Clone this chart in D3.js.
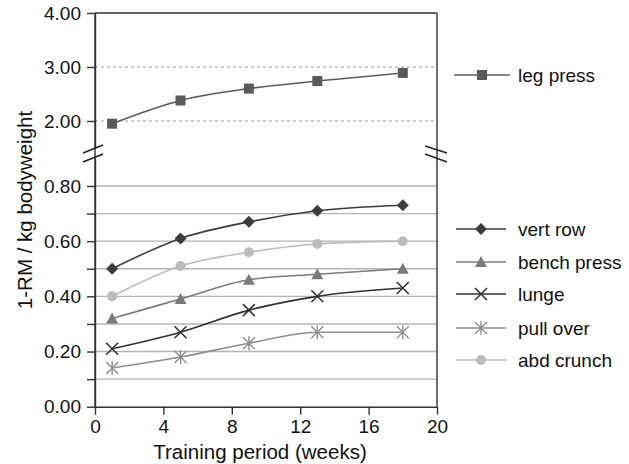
<!DOCTYPE html>
<html lang="en">
<head>
  <meta charset="UTF-8">
  <title>1-RM per kg bodyweight over training period</title>
  <script src="https://d3js.org/d3.v7.min.js"></script>
  <style>
    body { margin: 0; padding: 0; background: #fff; font-family: "Liberation Sans", Arial, sans-serif; }
    svg { display: block; }
    .axis text { font-family: "Liberation Sans", Arial, sans-serif; font-size: 19px; fill: #111; }
    .axis path, .axis line { stroke: #333; stroke-width: 1.4; }
  </style>
</head>
<body>
  <svg width="629" height="464"></svg>

  <script>
    // data
    const weeks = [1, 5, 9, 13, 18];
    const legPress   = [1.95, 2.38, 2.60, 2.74, 2.89];
    const vertRow    = [0.50, 0.61, 0.67, 0.71, 0.73];
    const benchPress = [0.32, 0.39, 0.46, 0.48, 0.50];
    const lunge      = [0.21, 0.27, 0.35, 0.40, 0.43];
    const pullOver   = [0.14, 0.18, 0.23, 0.27, 0.27];
    const abdCrunch  = [0.40, 0.51, 0.56, 0.59, 0.60];

    const xTicks = [0, 4, 8, 12, 16, 20];
    const upperTicks = [2, 3, 4];
    const lowerTicks = [0, 0.1, 0.2, 0.3, 0.4, 0.5, 0.6, 0.7, 0.8];

    const lowerSeries = [
      {name: "vert row",    values: vertRow,    color: "#3c3c3c", mark: "diamond"},
      {name: "bench press", values: benchPress, color: "#7a7a7a", mark: "triangle"},
      {name: "lunge",       values: lunge,      color: "#303030", mark: "cross"},
      {name: "pull over",   values: pullOver,   color: "#8e8e8e", mark: "star"},
      {name: "abd crunch",  values: abdCrunch,  color: "#bcbcbc", mark: "circle"}
    ];
    const upperSeries = [
      {name: "leg press", values: legPress, color: "#5a5a5a", mark: "square"}
    ];

    const svg = d3.select("svg");
    const left = 95, right = 437;

    const x = d3.scaleLinear().domain([0, 20]).range([left, right]);
    const yUp = d3.scaleLinear().domain([1.5, 4]).range([148, 13]);
    const yLo = d3.scaleLinear().domain([0, 0.9]).range([406.7, 158.4]);

    // grid lines
    svg.append("g").selectAll("line")
      .data([2, 3]).join("line")
      .attr("x1", left).attr("x2", right)
      .attr("y1", d => yUp(d)).attr("y2", d => yUp(d))
      .attr("stroke", "#999").attr("stroke-width", 1.1)
      .attr("stroke-dasharray", "3,3");

    svg.append("g").selectAll("line")
      .data(lowerTicks.filter(d => d > 0)).join("line")
      .attr("x1", left).attr("x2", right)
      .attr("y1", d => yLo(d)).attr("y2", d => yLo(d))
      .attr("stroke", "#b4b4b4").attr("stroke-width", 1.4);

    // frame: top and right borders
    svg.append("line")
      .attr("x1", left).attr("x2", right).attr("y1", yUp(4)).attr("y2", yUp(4))
      .attr("stroke", "#333").attr("stroke-width", 1.4);
    svg.append("line")
      .attr("x1", right).attr("x2", right).attr("y1", yUp(4)).attr("y2", yLo(0))
      .attr("stroke", "#333").attr("stroke-width", 1.4);

    // axes
    svg.append("g").attr("class", "axis")
      .attr("transform", `translate(${left},0)`)
      .call(d3.axisLeft(yUp).tickValues(upperTicks).tickSize(8).tickSizeOuter(0).tickPadding(6).tickFormat(d3.format(".2f")));

    svg.append("g").attr("class", "axis")
      .attr("transform", `translate(${left},0)`)
      .call(d3.axisLeft(yLo).tickValues(lowerTicks).tickSize(8).tickSizeOuter(0).tickPadding(6)
        .tickFormat(d => Math.round(d * 10) % 2 === 0 ? d3.format(".2f")(d) : ""));

    // continuous left spine across the break
    svg.append("line")
      .attr("x1", left).attr("x2", left).attr("y1", yUp(4)).attr("y2", yLo(0))
      .attr("stroke", "#333").attr("stroke-width", 1.4);

    svg.append("g").attr("class", "axis")
      .attr("transform", `translate(0,${yLo(0)})`)
      .call(d3.axisBottom(x).tickValues(xTicks).tickSize(8).tickSizeOuter(0).tickPadding(5));

    // axis break marks
    const brk = svg.append("g").attr("stroke", "#222").attr("stroke-width", 1.6);
    [[153, 145], [162, 154]].forEach(([a, b]) => {
      brk.append("line").attr("x1", left - 12).attr("y1", a).attr("x2", left + 8).attr("y2", b);
    });
    [[146, 153], [154, 162]].forEach(([a, b]) => {
      brk.append("line").attr("x1", right - 12).attr("y1", a).attr("x2", right + 10).attr("y2", b);
    });

    // marker drawing
    function drawMark(g, mark, color, cx, cy) {
      if (mark === "square") {
        g.append("rect").attr("x", cx - 5).attr("y", cy - 5).attr("width", 10).attr("height", 10).attr("fill", color);
      } else if (mark === "diamond") {
        g.append("path").attr("d", `M${cx},${cy - 6}L${cx + 6},${cy}L${cx},${cy + 6}L${cx - 6},${cy}Z`).attr("fill", color);
      } else if (mark === "triangle") {
        g.append("path").attr("d", `M${cx},${cy - 6}L${cx + 6},${cy + 5}L${cx - 6},${cy + 5}Z`).attr("fill", color);
      } else if (mark === "circle") {
        g.append("circle").attr("cx", cx).attr("cy", cy).attr("r", 5).attr("fill", color);
      } else if (mark === "cross") {
        g.append("path").attr("d", `M${cx - 6},${cy - 6}L${cx + 6},${cy + 6}M${cx - 6},${cy + 6}L${cx + 6},${cy - 6}`)
          .attr("stroke", color).attr("stroke-width", 1.5).attr("fill", "none");
      } else if (mark === "star") {
        g.append("path").attr("d", `M${cx - 6},${cy - 6}L${cx + 6},${cy + 6}M${cx - 6},${cy + 6}L${cx + 6},${cy - 6}M${cx},${cy - 7}L${cx},${cy + 7}`)
          .attr("stroke", color).attr("stroke-width", 1.4).attr("fill", "none");
      }
    }

    function drawSeries(s, y) {
      const g = svg.append("g");
      const pts = weeks.map((w, i) => [x(w), y(s.values[i])]);
      g.append("path")
        .attr("d", d3.line().curve(d3.curveMonotoneX)(pts))
        .attr("fill", "none").attr("stroke", s.color).attr("stroke-width", 1.6);
      pts.forEach(p => drawMark(g, s.mark, s.color, p[0], p[1]));
    }

    lowerSeries.slice().reverse().forEach(s => drawSeries(s, yLo));
    upperSeries.forEach(s => drawSeries(s, yUp));

    // legends
    function legendItem(s, ly, x0, x1) {
      const g = svg.append("g");
      g.append("line").attr("x1", x0).attr("x2", x1).attr("y1", ly).attr("y2", ly)
        .attr("stroke", s.color).attr("stroke-width", 1.6);
      drawMark(g, s.mark, s.color, (x0 + x1) / 2, ly);
      g.append("text").attr("x", 518).attr("y", ly).attr("dy", "0.35em")
        .style("font-size", "19px").attr("fill", "#111").text(s.name);
    }
    legendItem(upperSeries[0], 75, 454, 510);
    const legendY = [229, 262, 294, 328, 360];
    lowerSeries.forEach((s, i) => legendItem(s, legendY[i], 456, 506));

    // axis titles
    svg.append("text")
      .attr("x", 260).attr("y", 459)
      .attr("text-anchor", "middle").style("font-size", "20.5px").attr("fill", "#111")
      .text("Training period (weeks)");

    svg.append("text")
      .attr("transform", "translate(32,210) rotate(-90)")
      .attr("text-anchor", "middle").style("font-size", "20.5px").attr("fill", "#111")
      .text("1-RM / kg bodyweight");
  </script>
</body>
</html>
